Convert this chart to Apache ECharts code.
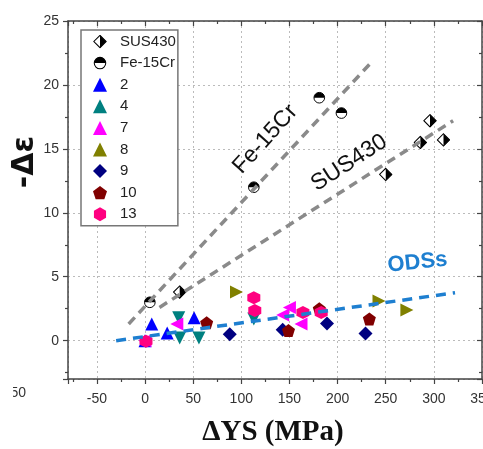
<!DOCTYPE html>
<html><head><meta charset="utf-8">
<script src="https://cdn.jsdelivr.net/npm/echarts@6/dist/echarts.min.js"></script>
<style>html,body{margin:0;padding:0;background:#fff}#c{width:483px;height:449px}</style>
</head><body><div id="c"></div>
<script>
// ---- data ----
const xRange = [-80, 350];
const yRange = [-3, 25];
const seriesNames = ['SUS430', 'Fe-15Cr', '2', '4', '7', '8', '9', '10', '13'];
const sus430 = [[36,3.8],[250,13.0],[286,15.5],[296,17.2],[310,15.7]];
const fe15cr = [[5,3.0],[113,12.0],[181,19.0],[204,17.8]];
const s2  = [[0,0.0],[7,1.3],[23,0.6],[51,1.8]];
const s4  = [[35,1.8],[36,0.2],[56,0.2],[113,1.7]];
const s7  = [[0,0.0],[33,1.3],[143,2.0],[150,2.6],[162,1.3]];
const s8  = [[95,3.8],[243,3.1],[272,2.4]];
const s9  = [[88,0.5],[143,0.85],[189,1.35],[229,0.55]];
const s10 = [[64,1.4],[149,0.8],[181,2.5],[233,1.7]];
const s13 = [[1,-0.05],[113,3.35],[114,2.35],[164,2.2],[183,2.2]];
const fe15crTrend = [[-17,1.3],[233,21.6]];
const sus430Trend = [[15,2.6],[320,17.2]];
const odsTrend    = [[-30,0.0],[322,3.75]];
const trendLabels = ['Fe-15Cr', 'SUS430', 'ODSs'];
const xTitle = 'ΔYS (MPa)';
const yTitle = '-Δε';

// ---- styling ----
const svgUri = s => 'image://data:image/svg+xml;charset=utf-8,' + encodeURIComponent(s);
const susIcon = svgUri("<svg xmlns='http://www.w3.org/2000/svg' width='40' height='40' viewBox='0 0 20 20'><polygon points='10,1.2 18.8,10 10,18.8 1.2,10' fill='#fff' stroke='#000' stroke-width='1.5'/><polygon points='10,1.2 18.8,10 10,18.8' fill='#000'/></svg>");
const feIcon = svgUri("<svg xmlns='http://www.w3.org/2000/svg' width='40' height='40' viewBox='0 0 20 20'><circle cx='10' cy='10' r='8.2' fill='#fff' stroke='#000' stroke-width='1.5'/><path d='M1.8,10 A8.2,8.2 0 0 1 18.2,10 Z' fill='#000'/></svg>");
const pentagon = 'path://M0,-1 L0.951,-0.309 L0.588,0.809 L-0.588,0.809 L-0.951,-0.309 Z';
const hexagon = 'path://M0,-1 L0.866,-0.5 L0.866,0.5 L0,1 L-0.866,0.5 L-0.866,-0.5 Z';

function sc(name, data, symbol, color, size, rotate) {
  return { type: 'scatter', name: name, data: data, symbol: symbol, symbolSize: size,
    symbolRotate: rotate || 0, itemStyle: { color: color, opacity: 1 }, z: 3, silent: true };
}
function trend(data, color, width, dash) {
  return { type: 'line', data: data, symbol: 'none', silent: true, z: 4,
    lineStyle: { color: color, width: width, type: dash } };
}

const axisCommon = {
  type: 'value', axisLine: { show: true, onZero: false, lineStyle: { color: '#444', width: 1.5 } },
  splitLine: { show: false }
};
const tickStyle = { color: '#444', width: 1.2 };

const chart = echarts.init(document.getElementById('c'), null, { renderer: 'canvas' });
const option = {
  animation: false,
  backgroundColor: '#fff',
  grid: { left: 68, right: 1, top: 21, bottom: 70, containLabel: false, outerBoundsMode: 'none' },
  legend: {
    data: seriesNames, orient: 'vertical', left: 81, top: 30,
    padding: [4, 2, 4, 12], itemGap: 6.6, itemWidth: 14, itemHeight: 14,
    backgroundColor: '#fff', borderColor: '#777', borderWidth: 1.5,
    textStyle: { fontFamily: 'Liberation Sans, Arial', fontSize: 15, color: '#222', padding: [0, 0, 0, 8] },
    z: 10
  },
  xAxis: [
    Object.assign({}, axisCommon, {
      min: xRange[0], max: xRange[1], splitNumber: 9, position: 'bottom',
      axisTick: { show: true, inside: false, length: 5, lineStyle: tickStyle },
      minorTick: { show: true, splitNumber: 2, length: 3, lineStyle: tickStyle },
      axisLabel: { show: true, showMinLabel: false, margin: 13, fontFamily: 'Liberation Sans, Arial', fontSize: 14, color: '#333', hideOverlap: false },
      splitLine: { show: true, lineStyle: { color: '#bbb', width: 1, type: [2, 3] } }
    }),
    Object.assign({}, axisCommon, {
      min: xRange[0], max: xRange[1], splitNumber: 9, position: 'top',
      axisTick: { show: true, inside: true, length: 5, lineStyle: tickStyle },
      minorTick: { show: true, splitNumber: 2, length: 3, lineStyle: tickStyle },
      axisLabel: { show: false }
    })
  ],
  yAxis: [
    Object.assign({}, axisCommon, {
      min: yRange[0], max: yRange[1], splitNumber: 5, position: 'left',
      axisTick: { show: true, inside: false, length: 5, lineStyle: tickStyle },
      minorTick: { show: true, splitNumber: 2, length: 3, lineStyle: tickStyle },
      axisLabel: { show: true, showMinLabel: false, margin: 9, fontFamily: 'Liberation Sans, Arial', fontSize: 14, color: '#333' },
      splitLine: { show: true, lineStyle: { color: '#bbb', width: 1, type: [2, 3] } }
    }),
    Object.assign({}, axisCommon, {
      min: yRange[0], max: yRange[1], splitNumber: 5, position: 'right',
      axisTick: { show: true, inside: true, length: 5, lineStyle: tickStyle },
      minorTick: { show: true, splitNumber: 2, length: 3, lineStyle: tickStyle },
      axisLabel: { show: false }
    })
  ],
  series: [
    sc(seriesNames[0], sus430, susIcon, '#000', 14),
    sc(seriesNames[1], fe15cr, feIcon, '#000', 13),
    sc(seriesNames[2], s2, 'triangle', '#0000ff', 13),
    sc(seriesNames[3], s4, 'triangle', '#008080', 13, 180),
    sc(seriesNames[4], s7, 'triangle', '#ff00ff', 13, 90),
    sc(seriesNames[5], s8, 'triangle', '#808000', 13, -90),
    sc(seriesNames[6], s9, 'diamond', '#000080', 14),
    sc(seriesNames[7], s10, pentagon, '#800000', 13),
    sc(seriesNames[8], s13, hexagon, '#ff0080', 13),
    trend(fe15crTrend, '#8a8a8a', 3.5, [9, 6]),
    trend(sus430Trend, '#8a8a8a', 3.5, [9, 6]),
    trend(odsTrend, '#1e7fd0', 3.5, [10, 7])
  ]
};
chart.setOption(option);

// annotations placed in data coordinates
const labelAnchors = [[125, 15.75], [212, 13.9], [283, 6.1]];
const labelAngles = [48, 33, 6];
const labelStyles = [
  { font: '23px "Liberation Sans", Arial', fill: '#111' },
  { font: '23px "Liberation Sans", Arial', fill: '#111' },
  { font: 'bold 22px "Liberation Sans", Arial', fill: '#1e7fd0' }
];
const g = trendLabels.map((t, i) => {
  const p = chart.convertToPixel({ xAxisIndex: 0, yAxisIndex: 0 }, labelAnchors[i]);
  return { type: 'text', x: p[0], y: p[1], rotation: labelAngles[i] * Math.PI / 180, z: 20,
    style: Object.assign({ text: t, textAlign: 'center', textVerticalAlign: 'middle' }, labelStyles[i]) };
});
g.push({ type: 'text', x: 273, y: 433, z: 20,
  style: { text: xTitle, font: 'bold 29px "Liberation Serif", "Times New Roman"', fill: '#111', textAlign: 'center', textVerticalAlign: 'middle' } });
g.push({ type: 'text', x: 25, y: 162, rotation: Math.PI / 2, z: 20,
  style: { text: yTitle, font: 'bold 30px "DejaVu Sans", "Liberation Sans", Arial', fill: '#111', textAlign: 'center', textVerticalAlign: 'middle' } });
g.push({ type: 'text', x: 26, y: 393, z: 20,
  style: { text: '50', font: '14px "Liberation Sans", Arial', fill: '#333', textAlign: 'right', textVerticalAlign: 'middle' } });
g.push({ type: 'rect', shape: { x: 0, y: 383, width: 13, height: 20 }, z: 21, style: { fill: '#fff' } });
chart.setOption({ graphic: g });
</script></body></html>
